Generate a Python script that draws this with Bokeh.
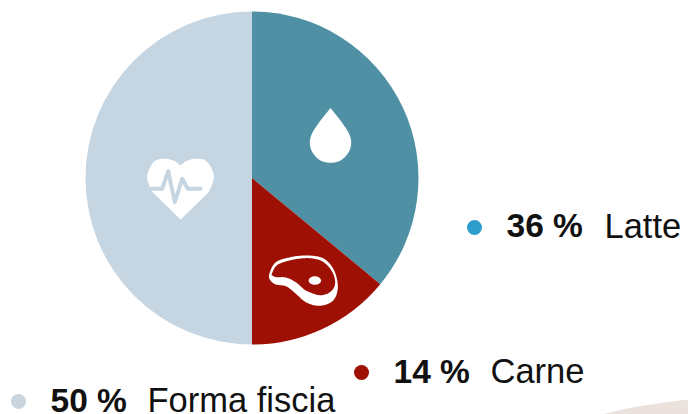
import numpy as np
from bokeh.plotting import figure
from bokeh.models import Range1d
from bokeh.embed import file_html
from bokeh.resources import INLINE
from bokeh.core.properties import value

categories = ["Latte", "Carne", "Forma fiscia"]
values = [36, 14, 50]
percent_labels = ["36 %", "14 %", "50 %"]
slice_colors = ["#4f90a4", "#9e1003", "#c5d5e2"]
dot_colors = ["#2e9dcb", "#9e1003", "#c8d5df"]

# page-pixel layout of the legend and pie
CX, CY, R = 251.5, 177.5, 166.5
dots_x = [474, 361, 18]
dots_y = [227, 372, 401]
text_y = [225, 370.5, 399.5]
pct_x = [506, 393, 50]
name_x = [604, 490, 147]

FONT = "Liberation Sans"

p = figure(width=688, height=414, output_backend="svg", toolbar_location=None,
           x_range=Range1d(0, 688), y_range=Range1d(414, 0),
           min_border=0, outline_line_color=None, background_fill_color="white")
p.axis.visible = False
p.grid.visible = False


def smooth(pts, closed=True, n=12):
    """Catmull-Rom smoothing of an icon outline."""
    a = np.array(pts, float)
    m = len(a)
    out = []
    rng = range(m) if closed else range(m - 1)
    for i in rng:
        if closed:
            p0, p1, p2, p3 = a[(i - 1) % m], a[i], a[(i + 1) % m], a[(i + 2) % m]
        else:
            p0, p1, p2, p3 = a[max(i - 1, 0)], a[i], a[i + 1], a[min(i + 2, m - 1)]
        for t in np.linspace(0, 1, n, endpoint=False):
            out.append(0.5 * (2 * p1 + (p2 - p0) * t + (2 * p0 - 5 * p1 + 4 * p2 - p3) * t**2
                              + (3 * p1 - p0 - 3 * p2 + p3) * t**3))
    o = np.array(out)
    return o[:, 0].tolist(), o[:, 1].tolist()


# background shape bottom right
p.patch([600.7, 631, 660, 688, 688], [414, 407, 402.5, 399, 414], color="#ebe1dd", line_color=None)

# pie slices, clockwise from the top
fractions = np.array(values) / sum(values)
edges = np.concatenate([[0], np.cumsum(fractions)]) * 2 * np.pi
start = [-np.pi / 2 + e for e in edges[:-1]]
end = [-np.pi / 2 + e for e in edges[1:]]
for s, e, c in zip(start, end, slice_colors):
    p.wedge(x=CX, y=CY, radius=R, start_angle=-s, end_angle=-e, direction="clock",
            fill_color=c, line_color=None)

# drop icon
drop = [(320, 120), (312, 132), (309.3, 142), (312, 152), (320, 160), (330, 162.3),
        (340, 160), (348, 152), (350.7, 142), (348, 132), (340, 120)]
x1, y1 = smooth(drop, closed=False)
p.patch([330] + x1 + [330], [107.5] + y1 + [107.5], color="white", line_color=None)

# heart icon
left = [(180, 165), (174, 160.5), (165, 158.3), (155, 160), (149, 168), (146.7, 178), (151.7, 191.7)]
right = [(2 * 180 - x, y) for x, y in reversed(left)]
lx, ly = smooth(left, closed=False)
rx, ry = smooth(right, closed=False)
p.patch(lx + [180] + rx + [180], ly + [219] + ry + [165], color="white", line_color=None)
pulse_x = [150, 161.7, 167.7, 174.3, 181.7, 187.3, 200]
pulse_y = [188.3, 188.3, 170.7, 201.7, 178.3, 188.3, 188.3]
p.line(pulse_x, pulse_y, line_color=slice_colors[2], line_width=4, line_cap="round", line_join="round")

# steak icon
ox, oy = 262, 250
outer = [(20, 72), (40, 35), (90, 19), (140, 15), (185, 25), (215, 60), (226, 110), (212, 150),
         (172, 166), (130, 155), (95, 125), (70, 107), (40, 102), (24, 90)]
inner = [(28, 70), (45, 43), (90, 28), (140, 23), (180, 33), (208, 62), (218, 98), (204, 124),
         (172, 134), (130, 120), (100, 95), (70, 81), (42, 80), (31, 76)]
ax, ay = smooth([(ox + a / 3, oy + b / 3) for a, b in outer])
bx, by = smooth([(ox + a / 3, oy + b / 3) for a, b in inner])
p.patch(ax, ay, color="white", line_color=None)
p.patch(bx, by, color=slice_colors[1], line_color=None)
p.ellipse(x=ox + 157 / 3, y=oy + 90 / 3, width=12.5, height=8.5, color="white", line_color=None)

# legend
for i in range(3):
    p.scatter([dots_x[i]], [dots_y[i]], size=15, color=dot_colors[i], line_color=None)
    p.text([pct_x[i]], [text_y[i]], text=[percent_labels[i]], text_font=value(FONT), text_font_size="33.5px",
           text_font_style="bold", text_color="#111111", text_baseline="middle", text_align="left")
    p.text([name_x[i]], [text_y[i]], text=[categories[i]], text_font=value(FONT), text_font_size="34.5px",
           text_color="#111111", text_baseline="middle", text_align="left")

open("out.html", "w").write(file_html(p, INLINE))
